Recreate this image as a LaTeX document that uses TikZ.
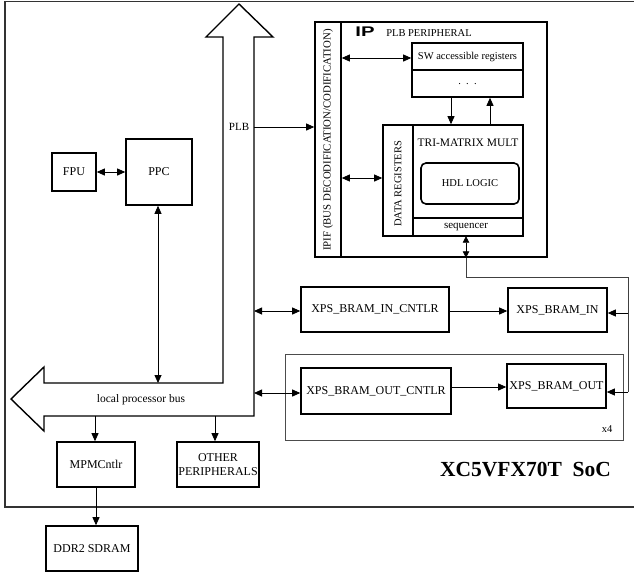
\documentclass[tikz,border=0pt]{standalone}
\usepackage{fontspec}
\usepackage{graphicx}
\setmainfont{Liberation Serif}
\newfontfamily\ipsans{Liberation Sans}
\usetikzlibrary{arrows.meta}
\begin{document}
\begin{tikzpicture}[x=1pt,y=-1pt,
  box/.style={draw,line width=1.6pt,inner sep=0pt,font=\fontsize{12}{14}\selectfont,align=center},
  lbl/.style={inner sep=0pt,font=\fontsize{12}{14}\selectfont,align=center},
  small/.style={inner sep=0pt,font=\fontsize{10.5}{12}\selectfont},
  arr/.style={-{Triangle[length=8pt,width=7pt]},line width=0.8pt},
  darr/.style={{Triangle[length=8pt,width=7pt]}-{Triangle[length=8pt,width=7pt]},line width=0.8pt},
  sdarr/.style={{Triangle[length=6.5pt,width=6.5pt]}-{Triangle[length=6.5pt,width=6.5pt]},line width=0.8pt},
  gline/.style={line width=0.8pt,draw=black!75},
  busshape/.style={draw,line width=1.4pt,fill=white,line join=miter}
]
\useasboundingbox (0,0) rectangle (634,576);
% SoC frame
\draw[line width=1.1pt,draw=black!80] (650,1.5) -- (5,1.5) -- (5,507) -- (650,507);
\node[inner sep=0pt,font=\fontsize{21.5}{24}\selectfont\bfseries] (soc) at (525.5,470) {XC5VFX70T\ \ SoC};

% PLB + local processor bus
\draw[busshape] (239,4) -- (273,37) -- (254,37) -- (254,416) -- (44,416) -- (44,431) -- (11,399) -- (44,367) -- (44,383) -- (223,383) -- (223,37) -- (206,37) -- cycle;
\node[lbl,font=\fontsize{11}{12}\selectfont] (plb) at (239,127) {PLB};
\node[lbl,font=\fontsize{11.5}{13}\selectfont] (lpb) at (141,400) {local processor bus};
\coordinate (busPPC) at (158,383);
\coordinate (busPLB) at (254,127);
\coordinate (busIN) at (254,311);
\coordinate (busOUT) at (254,393);
\coordinate (busM) at (95,416);
\coordinate (busO) at (215,416);

% processor side
\node[box,minimum width=44,minimum height=38] (fpu) at (74,172) {FPU};
\node[box,minimum width=66,minimum height=66] (ppc) at (159,172) {PPC};
\node[box,minimum width=78,minimum height=45] (mpmc) at (96,464.5) {MPMCntlr};
\node[box,minimum width=82,minimum height=45] (other) at (218,464.5) {OTHER\\PERIPHERALS};
\node[box,minimum width=92,minimum height=45] (ddr) at (92,548.5) {DDR2 SDRAM};

\draw[darr] (fpu.east) -- (ppc.west);
\draw[darr] (ppc.south -| busPPC) -- (busPPC);
\draw[arr] (busM) -- (busM |- mpmc.north);
\draw[arr] (busO) -- (busO |- other.north);
\draw[arr] (mpmc.south) -- (mpmc.south |- ddr.north);

% IP block
\node[box,minimum width=232,minimum height=235] (ip) at (431,139.5) {};
\node[box,minimum width=26,minimum height=235] (ipif) at (328,139.5) {};
\node[small,rotate=90,font=\fontsize{10.8}{12}\selectfont] (ipiftxt) at (328,140) {IPIF (BUS DECODIFICATION/CODIFICATION)};
\node[inner sep=0pt,font=\fontsize{14}{14}\selectfont\ipsans\bfseries] (iptxt) at (365,32) {\scalebox{1.45}[1]{IP}};
\node[small] (pp) at (429,33) {PLB PERIPHERAL};

\node[box,minimum width=111,minimum height=54] (sw) at (467.5,70) {};
\draw[line width=1.6pt] (sw.west) -- (sw.east);
\node[small] (swtxt) at (467.5,57) {SW accessible registers};
\node[small] (dots) at (467.5,84) {.\ \ .\ \ .};

\node[box,minimum width=140,minimum height=111] (tri) at (453,180.5) {};
\node[box,minimum width=30,minimum height=111] (data) at (398,180.5) {};
\node[small,rotate=90] (datatxt) at (398,184) {DATA REGISTERS};
\node[lbl,font=\fontsize{11.5}{13}\selectfont] (tritxt) at (468,143) {TRI-MATRIX MULT};
\node[box,rounded corners=5pt,minimum width=98,minimum height=41,font=\fontsize{10.5}{12}\selectfont] (hdl) at (470,183.5) {HDL LOGIC};
\draw[line width=1.6pt] (data.east |- 0,218) -- (tri.east |- 0,218);
\node[small,font=\fontsize{11}{12}\selectfont,minimum width=110,minimum height=18] (seq) at (466,227) {sequencer};

\draw[arr] (busPLB) -- (busPLB -| ip.west);
\draw[darr] (ipif.east |- 0,58) -- (sw.west |- 0,58);
\draw[darr] (ipif.east |- 0,178) -- (data.west |- 0,178);
\draw[arr] ([xshift=-16.5pt]sw.south) -- ([xshift=-16.5pt]sw.south |- tri.north);
\draw[arr] ([xshift=22.5pt]sw.south |- tri.north) -- ([xshift=22.5pt]sw.south);

% BRAM controllers
\node[draw,line width=0.8pt,draw=black!70,minimum width=338,minimum height=86,inner sep=0pt] (grp) at (454,397) {};
\node[lbl,font=\fontsize{10.5}{12}\selectfont] (x4) at (607,429) {x4};
\node[box,minimum width=148,minimum height=45] (incntlr) at (375,309.5) {XPS\_BRAM\_IN\_CNTLR};
\node[box,minimum width=99,minimum height=44] (bramin) at (557.5,310) {XPS\_BRAM\_IN};
\node[box,minimum width=150,minimum height=46] (outcntlr) at (376,391) {XPS\_BRAM\_OUT\_CNTLR};
\node[box,minimum width=99,minimum height=44] (bramout) at (556.5,386) {XPS\_BRAM\_OUT};

\draw[darr] (busIN) -- (busIN -| incntlr.west);
\draw[darr] (busOUT) -- (busOUT -| outcntlr.west);
\draw[arr] (incntlr.east |- 0,311) -- (bramin.west |- 0,311);
\draw[arr] (outcntlr.east |- 0,387) -- (bramout.west |- 0,387);

% sequencer link
\coordinate (rt) at (628,277);
\coordinate (rm) at (628,313);
\coordinate (rb) at (628,392);
\draw[sdarr] (seq.south) -- (seq.south |- ip.south);
\draw[gline] (seq.south |- ip.south) |- (rt) -- (rb);
\draw[arr] (rm) -- (rm -| bramin.east);
\draw[arr] (rb) -- (rb -| bramout.east);
\end{tikzpicture}
\end{document}
